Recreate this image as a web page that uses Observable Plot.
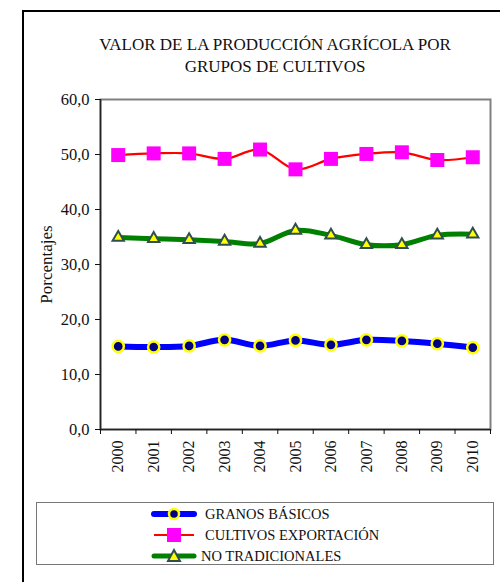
<!DOCTYPE html>
<html>
<head>
<meta charset="utf-8">
<script src="https://cdn.jsdelivr.net/npm/d3@7"></script>
<script src="https://cdn.jsdelivr.net/npm/@observablehq/plot@0.6"></script>
<style>
  body { margin: 0; background: #fff; }
  #wrap { position: relative; width: 500px; height: 582px; overflow: hidden; font-family: "Times New Roman", Times, "Liberation Serif", Tinos, "DejaVu Serif", "Noto Serif", serif; }
  #border { position: absolute; left: 22px; top: 10px; width: 500px; height: 600px; border-left: 2px solid #000; border-top: 2px solid #000; }
  #title { position: absolute; left: 60px; width: 430px; top: 34px; text-align: center; font-size: 17px; line-height: 22px; color: #111; }
  #chart { position: absolute; left: 0; top: 0; }
  #legend { position: absolute; left: 36px; top: 502px; width: 456px; height: 61px; border: 1px solid #777; background: #fff; }
  .row { position: absolute; left: 0; height: 20px; font-size: 14.5px; color: #111; }
  .row svg { position: absolute; left: 114px; top: 1px; }
  .row span { position: absolute; white-space: nowrap; top: 1px; }
</style>
</head>
<body>
<div id="wrap">
  <div id="border"></div>
  <div id="title">VALOR DE LA PRODUCCIÓN AGRÍCOLA POR<br>GRUPOS DE CULTIVOS</div>
  <div id="chart"></div>
  <div id="legend"></div>
</div>
<script>
const years = [2000, 2001, 2002, 2003, 2004, 2005, 2006, 2007, 2008, 2009, 2010];
const granos = [15.1, 15.0, 15.2, 16.3, 15.2, 16.2, 15.4, 16.3, 16.1, 15.6, 14.9];
const cultivos = [49.9, 50.2, 50.2, 49.2, 50.9, 47.3, 49.2, 50.1, 50.4, 49.0, 49.5];
const noTrad = [34.9, 34.7, 34.5, 34.2, 33.8, 36.2, 35.3, 33.6, 33.6, 35.3, 35.5];
const yTicks = [0, 10, 20, 30, 40, 50, 60];
const seriesNames = ["GRANOS BÁSICOS", "CULTIVOS EXPORTACIÓN", "NO TRADICIONALES"];

const rows = (vals) => years.map((y, i) => ({year: y, value: vals[i]}));
const dG = rows(granos), dC = rows(cultivos), dN = rows(noTrad);
const bounds = [...years.map(y => y - 0.5), years[years.length - 1] + 0.5];
const fmt = d => d3.format(".1f")(d).replace(".", ",");
const serif = `"Times New Roman", Times, "Liberation Serif", Tinos, "DejaVu Serif", "Noto Serif", serif`;

const chart = Plot.plot({
  width: 500,
  height: 490,
  marginTop: 99,
  marginLeft: 100,
  marginRight: 10,
  marginBottom: 61,
  style: {fontFamily: serif, fontSize: "16px", color: "#111", background: "transparent"},
  x: {type: "linear", domain: [bounds[0], bounds[bounds.length - 1]]},
  y: {domain: [0, 60]},
  marks: [
    Plot.frame({stroke: "#808080", strokeWidth: 2}),
    Plot.ruleY([0], {stroke: "#222", strokeWidth: 1.5}),
    Plot.ruleX([bounds[0]], {stroke: "#222", strokeWidth: 1.5}),
    Plot.axisY({ticks: yTicks, tickFormat: fmt, tickSize: 5, tickPadding: 6, label: null, fontSize: 16.5}),
    Plot.axisY({ticks: [], label: "Porcentajes", labelAnchor: "center", labelArrow: "none", labelOffset: 61, fontSize: 17}),
    Plot.axisX({ticks: bounds, tickFormat: () => "", tickSize: 5, label: null}),
    Plot.axisX({ticks: years, tickFormat: d => String(d), tickSize: 0, tickRotate: -90, tickPadding: 11, label: null, fontSize: 16}),
    Plot.line(dC, {x: "year", y: "value", stroke: "#ff0000", strokeWidth: 2.2, curve: "catmull-rom"}),
    Plot.line(dN, {x: "year", y: "value", stroke: "#008000", strokeWidth: 5, curve: "catmull-rom"}),
    Plot.line(dG, {x: "year", y: "value", stroke: "#0000ff", strokeWidth: 6, curve: "catmull-rom"}),
    Plot.dot(dC, {x: "year", y: "value", symbol: "square", r: 7.9, fill: "#ff00ff", stroke: "none"}),
    Plot.dot(dN, {x: "year", y: "value", symbol: "triangle", r: 4.2, fill: "#ffff00", stroke: "#2f4f4f", strokeWidth: 2}),
    Plot.dot(dG, {x: "year", y: "value", r: 5.6, fill: "#000080", stroke: "#ffff00", strokeWidth: 2.5})
  ]
});
document.getElementById("chart").appendChild(chart);

// Legend
const legend = document.getElementById("legend");
const swatches = [
  `<svg width="46" height="16"><line x1="3" y1="8" x2="43" y2="8" stroke="#0000ff" stroke-width="6" stroke-linecap="round"/><circle cx="23" cy="8" r="5" fill="#000080" stroke="#ffff00" stroke-width="2.5"/></svg>`,
  `<svg width="46" height="16"><line x1="3" y1="8" x2="43" y2="8" stroke="#ff0000" stroke-width="2"/><rect x="16" y="1" width="14" height="14" fill="#ff00ff"/></svg>`,
  `<svg width="46" height="16"><line x1="3" y1="8" x2="43" y2="8" stroke="#008000" stroke-width="5" stroke-linecap="round"/><path d="M23,2 L29,13 L17,13 Z" fill="#ffff00" stroke="#2f4f4f" stroke-width="2"/></svg>`
];
const textLeft = [168, 168, 164];
seriesNames.forEach((name, i) => {
  const r = document.createElement("div");
  r.className = "row";
  r.style.top = (2 + i * 21) + "px";
  r.style.width = "456px";
  r.innerHTML = swatches[i] + `<span style="left:${textLeft[i]}px">${name}</span>`;
  legend.appendChild(r);
});
</script>
</body>
</html>
